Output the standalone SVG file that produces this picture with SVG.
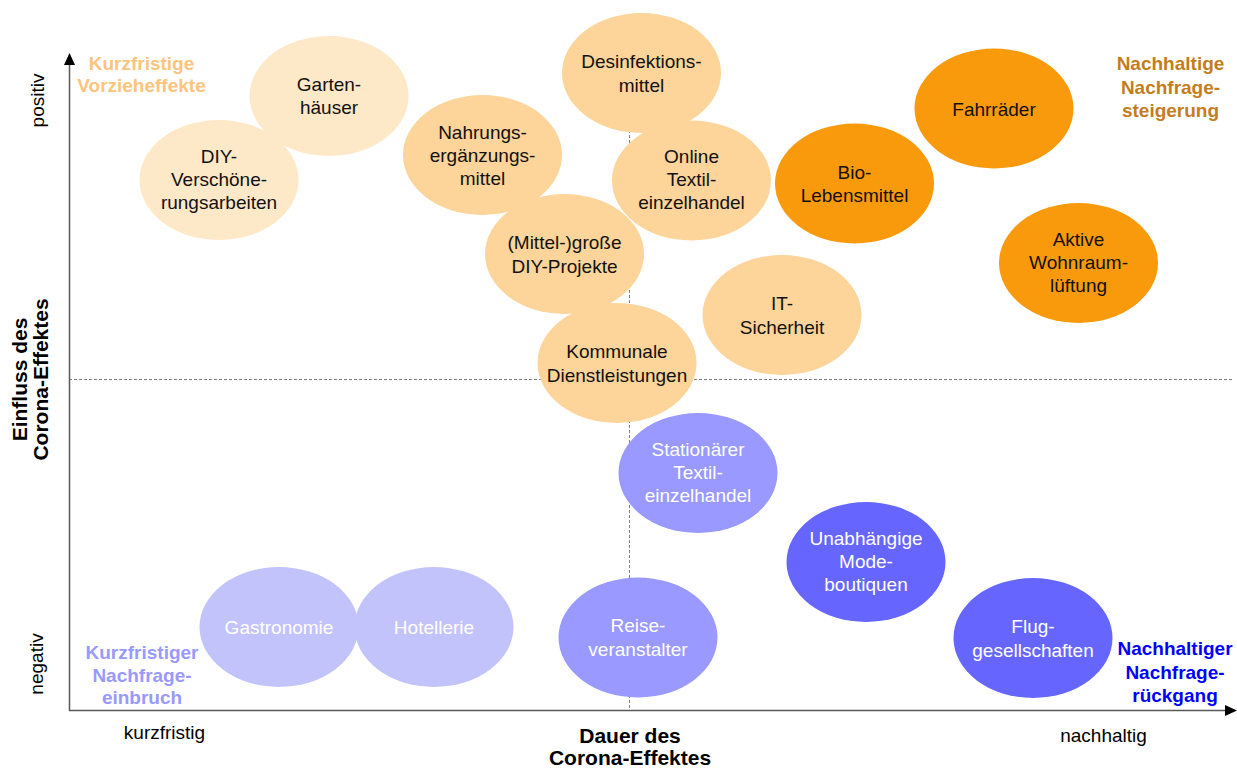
<svg xmlns="http://www.w3.org/2000/svg" width="1237" height="769" viewBox="0 0 1237 769">
<style>
text{font-family:"Liberation Sans",Arial,sans-serif;font-size:19px;text-anchor:middle}
.b{font-weight:bold}
.ax{font-size:21px;font-weight:bold;fill:#000}
.node ellipse{stroke:none}
.light{fill:#FDE8C8}
.mid{fill:#FDD499}
.org{fill:#F99A0C}
.lav1{fill:#C3C3FC}
.lav2{fill:#9999FF}
.lav3{fill:#6666FF}
.dk{fill:#111}
.wt{fill:#fff}
.axis{stroke:#595959;stroke-width:1.5;fill:none}
.dash{stroke:#7f7f7f;stroke-width:1;stroke-dasharray:3 2;fill:none}
</style>
<rect width="1237" height="769" fill="#fff"/>
<g id="connectors">
<line class="dash" x1="69" y1="379.5" x2="1232" y2="379.5"/>
<line class="dash" x1="629.5" y1="55" x2="629.5" y2="710"/>
<line class="axis" x1="69.5" y1="711" x2="69.5" y2="62"/>
<line class="axis" x1="69" y1="710.5" x2="1226" y2="710.5"/>
<polygon points="69.5,53 64,65 75,65" fill="#000"/>
<polygon points="1237,710.5 1225,705 1225,716" fill="#000"/>
</g>
<g id="axis-labels">
<text transform="translate(44,100.5) rotate(-90)">positiv</text>
<text transform="translate(43,664) rotate(-90)">negativ</text>
<text class="ax" transform="translate(27,379.5) rotate(-90)">Einfluss des</text>
<text class="ax" transform="translate(48,379.5) rotate(-90)">Corona-Effektes</text>
<text x="164.5" y="739">kurzfristig</text>
<text x="1103.5" y="742">nachhaltig</text>
<text class="ax" x="630" y="743">Dauer des</text>
<text class="ax" x="630" y="765">Corona-Effektes</text>
</g>
<g id="quadrant-labels" class="b">
<text class="b" fill="#FDC47D"><tspan x="141.5" y="69.5">Kurzfristige</tspan><tspan x="141.5" y="92">Vorzieheffekte</tspan></text>
<text class="b" fill="#C57D1C"><tspan x="1170.5" y="70">Nachhaltige</tspan><tspan x="1170.5" y="93.5">Nachfrage-</tspan><tspan x="1170.5" y="117">steigerung</tspan></text>
<text class="b" fill="#9999FF"><tspan x="142" y="658.5">Kurzfristiger</tspan><tspan x="142" y="681.5">Nachfrage-</tspan><tspan x="142" y="704">einbruch</tspan></text>
<text class="b" fill="#0000FF"><tspan x="1175" y="655">Nachhaltiger</tspan><tspan x="1175" y="678.5">Nachfrage-</tspan><tspan x="1175" y="702">rückgang</tspan></text>
</g>
<g id="n-garten" class="node"><ellipse class="light" cx="329" cy="96" rx="79.5" ry="60"/><text class="dk"><tspan x="329" y="90.5">Garten-</tspan><tspan x="329" y="113.5">häuser</tspan></text></g>
<g id="n-diy" class="node"><ellipse class="light" cx="219" cy="180" rx="79.5" ry="60"/><text class="dk"><tspan x="219" y="162.7">DIY-</tspan><tspan x="219" y="186">Verschöne-</tspan><tspan x="219" y="209.3">rungsarbeiten</tspan></text></g>
<g id="n-desinf" class="node"><ellipse class="mid" cx="641.5" cy="73" rx="79.5" ry="60"/><text class="dk"><tspan x="641.5" y="68">Desinfektions-</tspan><tspan x="641.5" y="91.5">mittel</tspan></text></g>
<g id="n-nahrung" class="node"><ellipse class="mid" cx="482.5" cy="155" rx="79.5" ry="60"/><text class="dk"><tspan x="482.5" y="138.7">Nahrungs-</tspan><tspan x="482.5" y="162">ergänzungs-</tspan><tspan x="482.5" y="185.3">mittel</tspan></text></g>
<g id="n-online" class="node"><ellipse class="mid" cx="691.5" cy="180.5" rx="79.5" ry="60"/><text class="dk"><tspan x="691.5" y="162.7">Online</tspan><tspan x="691.5" y="186">Textil-</tspan><tspan x="691.5" y="209.3">einzelhandel</tspan></text></g>
<g id="n-mittel" class="node"><ellipse class="mid" cx="564.5" cy="254" rx="79.5" ry="60"/><text class="dk"><tspan x="564.5" y="249.3">(Mittel-)große</tspan><tspan x="564.5" y="272.7">DIY-Projekte</tspan></text></g>
<g id="n-kommunal" class="node"><ellipse class="mid" cx="617" cy="363" rx="79.5" ry="60"/><text class="dk"><tspan x="617" y="358.3">Kommunale</tspan><tspan x="617" y="381.7">Dienstleistungen</tspan></text></g>
<g id="n-it" class="node"><ellipse class="mid" cx="782" cy="315" rx="79.5" ry="60"/><text class="dk"><tspan x="782" y="310.3">IT-</tspan><tspan x="782" y="333.7">Sicherheit</tspan></text></g>
<g id="n-fahrrad" class="node"><ellipse class="org" cx="994" cy="108.5" rx="79.5" ry="60"/><text class="dk" x="994" y="116">Fahrräder</text></g>
<g id="n-bio" class="node"><ellipse class="org" cx="854.5" cy="183.5" rx="79.5" ry="60"/><text class="dk"><tspan x="854.5" y="178.8">Bio-</tspan><tspan x="854.5" y="202.2">Lebensmittel</tspan></text></g>
<g id="n-aktiv" class="node"><ellipse class="org" cx="1078.5" cy="263" rx="79.5" ry="60"/><text class="dk"><tspan x="1078.5" y="245.7">Aktive</tspan><tspan x="1078.5" y="269">Wohnraum-</tspan><tspan x="1078.5" y="292.3">lüftung</tspan></text></g>
<g id="n-gastro" class="node"><ellipse class="lav1" cx="279" cy="627" rx="79.5" ry="60"/><text class="wt" x="279" y="634">Gastronomie</text></g>
<g id="n-hotel" class="node"><ellipse class="lav1" cx="434" cy="627" rx="79.5" ry="60"/><text class="wt" x="434" y="634">Hotellerie</text></g>
<g id="n-station" class="node"><ellipse class="lav2" cx="698" cy="473" rx="79.5" ry="60"/><text class="wt"><tspan x="698" y="455.7">Stationärer</tspan><tspan x="698" y="479">Textil-</tspan><tspan x="698" y="502.3">einzelhandel</tspan></text></g>
<g id="n-reise" class="node"><ellipse class="lav2" cx="638" cy="637.5" rx="79.5" ry="60"/><text class="wt"><tspan x="638" y="632.3">Reise-</tspan><tspan x="638" y="655.7">veranstalter</tspan></text></g>
<g id="n-mode" class="node"><ellipse class="lav3" cx="866" cy="562" rx="79.5" ry="60"/><text class="wt"><tspan x="866" y="544.7">Unabhängige</tspan><tspan x="866" y="568">Mode-</tspan><tspan x="866" y="591.3">boutiquen</tspan></text></g>
<g id="n-flug" class="node"><ellipse class="lav3" cx="1033" cy="638" rx="79.5" ry="60"/><text class="wt"><tspan x="1033" y="633.3">Flug-</tspan><tspan x="1033" y="656.7">gesellschaften</tspan></text></g>
</svg>
